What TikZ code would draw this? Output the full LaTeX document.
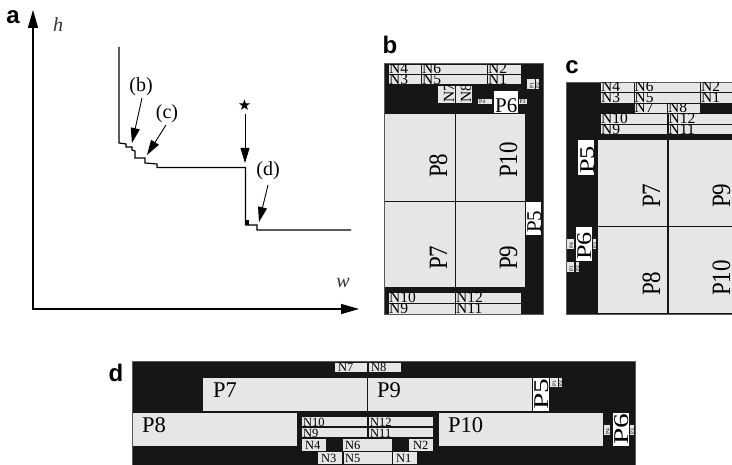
\documentclass[tikz,border=0pt]{standalone}
\usepackage{graphicx}
\usepackage{fontspec}
\setmainfont{Liberation Serif}
\newfontfamily\panelfont{Liberation Sans}
\newfontfamily\symfont{DejaVu Sans}
\usetikzlibrary{arrows.meta}
\definecolor{ink}{HTML}{161616}
\definecolor{pale}{HTML}{E5E6E6}
\newcommand\fsz[1]{\fontsize{#1}{#1}\selectfont}
\newcommand\tall[1]{\scalebox{1}[1.15]{#1}}
\newcommand\wide[2]{\scalebox{#1}[1]{#2}}
\tikzset{
  field/.style={fill=ink,draw=black!65,line width=.6pt,inner sep=0pt},
  gb/.style={fill=pale,draw=none},
  wb/.style={fill=white,draw=none},
  big/.style={font=\fsz{22.5}},
  bigr/.style={font=\fsz{23},rotate=90},
  whr/.style={font=\fsz{21},rotate=90},
  wh/.style={font=\fsz{21}},
  nl/.style={font=\fsz{15.5}},
  nlr/.style={font=\fsz{15.5},rotate=90},
  nm/.style={font=\fsz{12.5}},
  tiny/.style={font=\fsz{5.5}},
  tinyr/.style={font=\fsz{5.5},rotate=90},
  curve/.style={line width=1.2pt,line join=miter},
  axis/.style={line width=1.1pt,-{Triangle[length=18pt,width=10pt]}},
  pointer/.style={line width=.9pt,-{Triangle[length=15pt,width=9pt]}},
  plain/.style={font=\fsz{20},inner sep=0pt},
  panel/.style={font=\panelfont\bfseries\fsz{24},inner sep=0pt},
}
% name (x1,y1,x2,y2) box-style text-style {tx,ty} text
\def\bx#1(#2,#3,#4,#5)#6#7#8#9{%
  \pgfmathsetmacro\bw{#4-#2}\pgfmathsetmacro\bh{#5-#3}%
  \node[#6,anchor=north west,inner sep=0pt,minimum width=\bw pt,minimum height=\bh pt] (#1) at (#2,#3) {};%
  \begin{scope}\clip (#2,#3) rectangle (#4,#5);
  \node[anchor=base west,inner sep=0pt,#7] (#1t) at (#8) {#9};%
  \end{scope}}
\begin{document}
\begin{tikzpicture}[x=1pt,y=-1pt]
\useasboundingbox (0,0) rectangle (732,465);
% ---------- panel a ----------
\node[panel] (la) at (13,17) {a};
\coordinate (o1) at (33,310); \coordinate (ytip) at (33,10);
\coordinate (o2) at (33,309); \coordinate (xtip) at (359,309);
\draw[axis] (o1) -- (ytip);
\draw[axis] (o2) -- (xtip);
\node[font=\itshape\fsz{20},inner sep=0pt,text=black!80] (lh) at (58,25) {h};
\node[font=\itshape\fsz{20},inner sep=0pt,text=black!80] (lw) at (343,283) {w};
\coordinate (cstart) at (119,47); \coordinate (cend) at (351,230);
\draw[curve] (cstart) -- (119,143) -- (126,144) -- (126,147) -- (132,147) -- (132,150) -- (135,151)
  -- (135,158) -- (145,158) -- (145,163) -- (157,164) -- (157,167.5) -- (245.5,167.5) -- (245.5,225)
  -- (257,225) -- (257,230) -- (cend);
\fill (245.5,220) rectangle (249,225);
\node[plain] (lb) at (141,87) {(b)};
\node[plain] (lc) at (167,114) {(c)};
\node[plain] (ld) at (268,171) {(d)};
\node[font=\symfont\fsz{15},inner sep=0pt] (star) at (244.5,105) {★};
\coordinate (bs) at (142,98); \coordinate (bt) at (132,143);
\coordinate (cs) at (166,125); \coordinate (ct) at (147,155);
\coordinate (ss) at (245,114); \coordinate (st) at (245,163);
\coordinate (ds) at (268,185); \coordinate (dt) at (259,222);
\draw[pointer] (bs) -- (bt);
\draw[pointer] (cs) -- (ct);
\draw[pointer] (ss) -- (st);
\draw[pointer] (ds) -- (dt);
% ---------- panel b ----------
\node[panel] (lbb) at (390,45) {b};
\node[field,anchor=north west,minimum width=159pt,minimum height=251pt] (fb) at (384,63.5) {};
\bx{bN4}(389,64.5,420.5,74){gb}{nl}{389,74}{N4}
\bx{bN3}(389,75,420.5,84){gb}{nl}{389,84.5}{N3}
\bx{bN6}(422,64.5,487,74){gb}{nl}{422,74}{N6}
\bx{bN5}(422,75,487,84){gb}{nl}{422,84.5}{N5}
\bx{bN2}(488,64.5,521,74){gb}{nl}{488,74}{N2}
\bx{bN1}(488,75,521,84){gb}{nl}{488,84.5}{N1}
\bx{bN7}(438,86,454.5,103){gb}{nlr}{454,103}{N7}
\bx{bN8}(455.5,86,472,103){gb}{nlr}{471,103}{N8}
\bx{bP4}(478,99,492,104){gb}{tiny}{479,103.5}{P4}
\bx{bP6}(494,91,518,113){wb}{wh}{495,113}{P6}
\bx{bP3}(519,99,527,104){gb}{tiny}{519.5,103.5}{P3}
\bx{bP1}(527,79,534.5,89){gb}{tinyr}{533.5,88.5}{P1}
\bx{bP2}(535.5,79,539,89){gb}{tinyr}{539,88.5}{P2}
\bx{bP8}(384.5,113.5,454.5,200.5){gb}{bigr}{447,178}{\tall{P8}}
\bx{bP10}(455.5,113.5,525,200.5){gb}{bigr}{517,178}{\tall{P10}}
\bx{bP7}(384.5,201.5,454.5,287){gb}{bigr}{447,270}{\tall{P7}}
\bx{bP9}(455.5,201.5,525,287){gb}{bigr}{517,270}{\tall{P9}}
\bx{bP5}(526,202,541,235){wb}{whr}{541,233}{P5}
\bx{bN10}(389,293,454.5,303){gb}{nl}{389,303}{N10}
\bx{bN9}(389,304,454.5,314){gb}{nl}{389,314}{N9}
\bx{bN12}(456,293,521,303){gb}{nl}{456,303}{N12}
\bx{bN11}(456,304,521,314){gb}{nl}{456,314}{N11}
% ---------- panel c ----------
\node[panel] (lcc) at (572,67) {c};
\node[field,anchor=north west,minimum width=167pt,minimum height=232pt] (fc) at (566,82) {};
\bx{cN4}(601,82.5,633.5,92){gb}{nl}{601,92}{N4}
\bx{cN3}(601,93,633.5,102.5){gb}{nl}{601,103}{N3}
\bx{cN6}(634.5,82.5,700,92){gb}{nl}{634.5,92}{N6}
\bx{cN5}(634.5,93,700,102.5){gb}{nl}{634.5,103}{N5}
\bx{cN2}(701,82.5,732,92){gb}{nl}{701,92}{N2}
\bx{cN1}(701,93,732,102.5){gb}{nl}{701,103}{N1}
\bx{cN7}(634.5,104,667,113){gb}{nl}{634.5,113}{N7}
\bx{cN8}(668,104,700,113){gb}{nl}{668,113}{N8}
\bx{cN10}(601,114,667,124){gb}{nl}{601,124}{N10}
\bx{cN9}(601,125,667,134){gb}{nl}{601,134.5}{N9}
\bx{cN12}(668.5,114,732,124){gb}{nl}{668.5,124}{N12}
\bx{cN11}(668.5,125,732,134){gb}{nl}{668.5,134.5}{N11}
\bx{cP7}(598,140,667,226){gb}{bigr}{660,208}{\tall{P7}}
\bx{cP9}(668.5,140,732,226){gb}{bigr}{730,208}{\tall{P9}}
\bx{cP8}(598,227,667,313){gb}{bigr}{660,296}{\tall{P8}}
\bx{cP10}(668.5,227,732,313){gb}{bigr}{730,296}{\tall{P10}}
\bx{cP5}(578,140,594,175){wb}{whr}{594,174}{\wide{1.25}{P5}}
\bx{cP6}(576,227,592,261){wb}{whr}{591,260}{\wide{1.25}{P6}}
\bx{cP4}(567,239,574,249){gb}{tinyr}{573,248.5}{P4}
\bx{cP3}(592.5,239,596,249){gb}{tinyr}{596,248.5}{P3}
\bx{cP1}(567,262,574,272){gb}{tinyr}{573,271.5}{P1}
\bx{cP2}(576,262,579,272){gb}{tinyr}{579,271.5}{P2}
% ---------- panel d ----------
\node[panel] (ldd) at (116,373) {d};
\node[field,anchor=north west,minimum width=503pt,minimum height=104pt] (fd) at (132,361) {};
\bx{dN7}(335,363,367,372){gb}{nm}{338,372}{N7}
\bx{dN8}(369,363,401,372){gb}{nm}{371,372}{N8}
\bx{dP7}(203,378,367,411){gb}{big}{213,398}{P7}
\bx{dP9}(368,378,532,411){gb}{big}{377,398}{P9}
\bx{dP5}(533,378,549,411){wb}{whr}{548,410}{\wide{1.4}{P5}}
\bx{dP1}(550,378,558,387){gb}{tinyr}{556,386.5}{P1}
\bx{dP2}(559,378,562,387){gb}{tinyr}{562,386.5}{P2}
\bx{dP8}(133,413,297,446){gb}{big}{142,433}{P8}
\bx{dP10}(439,413,603,446){gb}{big}{448,433}{P10}
\bx{dN10}(302,417,367,426){gb}{nm}{303,426.5}{N10}
\bx{dN9}(302,428,367,437){gb}{nm}{303,437.5}{N9}
\bx{dN12}(369,417,433,426){gb}{nm}{370,426.5}{N12}
\bx{dN11}(369,428,433,437){gb}{nm}{370,437.5}{N11}
\bx{dN4}(302,439,326,450.5){gb}{nm}{305,449.5}{N4}
\bx{dN6}(343,439,392,450.5){gb}{nm}{345,449.5}{N6}
\bx{dN2}(409,439,433,450.5){gb}{nm}{413,449.5}{N2}
\bx{dN3}(318,452,342,463.5){gb}{nm}{321,463}{N3}
\bx{dN5}(344,452,392,463.5){gb}{nm}{345,463}{N5}
\bx{dN1}(393,452,417,463.5){gb}{nm}{396,463}{N1}
\bx{dP4}(604,425,610,435){gb}{tinyr}{609.5,434.5}{P4}
\bx{dP6}(613,413,629,446){wb}{whr}{628,445}{\wide{1.4}{P6}}
\bx{dP3}(630,425,634,435){gb}{tinyr}{634,434.5}{P3}
\end{tikzpicture}
\end{document}
